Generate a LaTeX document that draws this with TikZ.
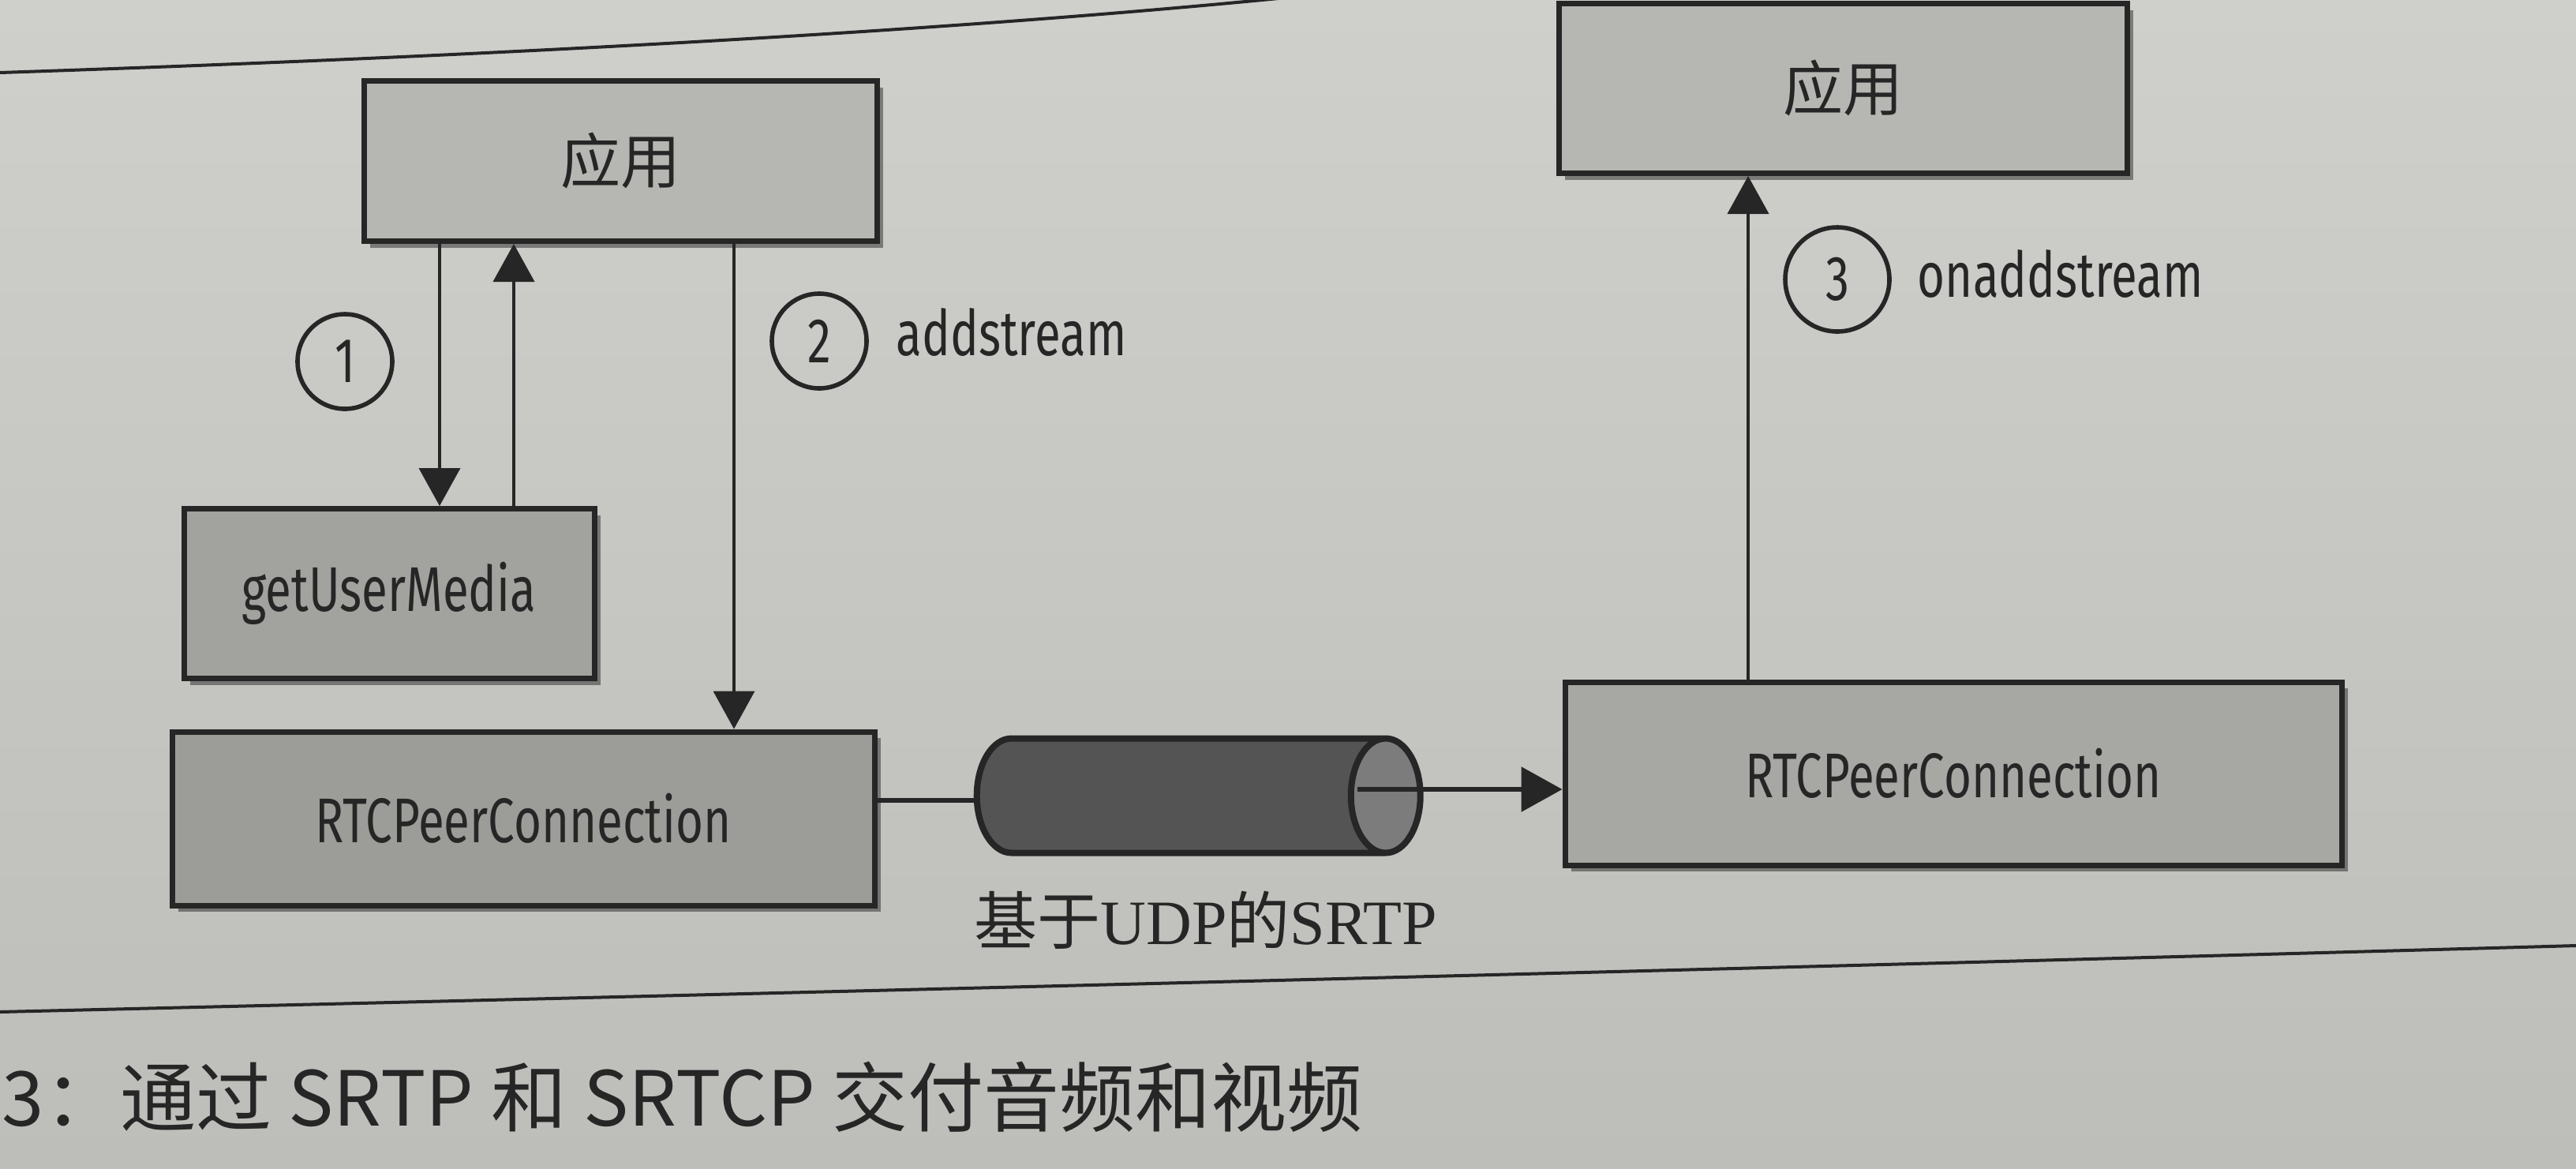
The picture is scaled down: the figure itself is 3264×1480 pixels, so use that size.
\documentclass[tikz,border=0pt]{standalone}
\usepackage{fontspec}
\usetikzlibrary{arrows.meta,shapes.geometric,shadows}
\newfontfamily\lab[FakeStretch=0.75]{Fira Sans}
\newfontfamily\cjk{Noto Sans CJK SC}
\newfontfamily\serifl{Liberation Serif}
\definecolor{paperT}{HTML}{CFCFCC}
\definecolor{paperB}{HTML}{BDBDBA}
\definecolor{ink}{HTML}{262626}
\definecolor{appfill}{HTML}{B6B6B3}
\definecolor{gumfill}{HTML}{A2A29F}
\definecolor{lrtcfill}{HTML}{9C9C99}
\definecolor{rrtcfill}{HTML}{A7A7A4}
\definecolor{cylbody}{HTML}{545454}
\definecolor{cylend}{HTML}{7C7C7C}
\begin{document}
\begin{tikzpicture}[x=0.25pt,y=-0.25pt,
  box/.style={draw=ink,line width=1.75pt,inner sep=0pt,text=ink,
    drop shadow={shadow xshift=2pt,shadow yshift=-2pt,opacity=0.4,fill=black}},
  latin/.style={font=\lab\fontsize{20pt}{24pt}\selectfont},
  chin/.style={font=\cjk\fontsize{19pt}{22pt}\selectfont},
  num/.style={circle,draw=ink,line width=1.4pt,minimum size=30pt,inner sep=0pt,
    text=ink,font=\lab\fontsize{20pt}{22pt}\selectfont},
  arr/.style={draw=ink,line width=1pt,-{Triangle[length=12pt,width=13pt]}},
  rulel/.style={draw=ink,line width=1pt}
]
\useasboundingbox (0,0) rectangle (3264,1480);
\shade[top color=paperT,bottom color=paperB] (0,0) rectangle (3264,1480);
% page rules
\draw[rulel] (0,92) .. controls (600,72) and (1200,40) .. (1640,-4);
\draw[rulel] (0,1282) .. controls (1000,1258) and (2200,1228) .. (3264,1198);
% boxes
\node[box,fill=appfill,chin,minimum width=162.5pt,minimum height=50.75pt] (lapp) at (786,204) {应用};
\node[box,fill=gumfill,latin,minimum width=130pt,minimum height=53.75pt] (gum) at (493,752) {getUserMedia};
\node[box,fill=lrtcfill,latin,minimum width=222.5pt,minimum height=55pt] (lrtc) at (663,1037) {RTCPeerConnection};
\node[box,fill=rrtcfill,latin,minimum width=246pt,minimum height=58pt] (rrtc) at (2475,980) {RTCPeerConnection};
\node[box,fill=appfill,chin,minimum width=180pt,minimum height=53.75pt] (rapp) at (2335,112) {应用};
% connectors
\draw[draw=ink,line width=1.5pt] (lrtc.east |- 0,1014) -- (1300,1014);
\node[cylinder,draw=ink,line width=2pt,minimum width=36.25pt,minimum height=140.5pt,aspect=3.3,
  cylinder uses custom fill,cylinder body fill=cylbody,cylinder end fill=cylend] (cyl) at (1482,1008) {};
\coordinate (cin) at (1720,1000);
\draw[draw=ink,line width=1.5pt,-{Triangle[length=13pt,width=14pt]}] (cin) -- (rrtc.west |- cin);
\draw[arr] (lapp.south -| 557,0) -- (gum.north -| 557,0);
\draw[arr] (gum.north -| 651,0) -- (lapp.south -| 651,0);
\draw[arr] (lapp.south -| 930,0) -- (lrtc.north -| 930,0);
\draw[arr] (rrtc.north -| 2215,0) -- (rapp.south -| 2215,0);
% numbered markers and labels
\node[num] (n1) at (437,458) {1};
\node[num] (n2) at (1038,432) {2};
\node[num,minimum size=33pt] (n3) at (2328,354) {3};
\node[latin,text=ink,anchor=base west,inner sep=0pt] (l2) at (1135,450) {addstream};
\node[latin,text=ink,anchor=base west,inner sep=0pt] (l3) at (2429,376) {onaddstream};
\node[text=ink,font=\fontsize{20pt}{24pt}\selectfont,inner sep=0pt] (l4) at (1528,1166)
  {{\cjk 基于}{\serifl UDP}{\cjk 的}{\serifl SRTP}};
\node[text=ink,font=\cjk\fontsize{24pt}{28pt}\selectfont,anchor=west,inner sep=0pt] (cap) at (2,1390)
  {3：通过 SRTP 和 SRTCP 交付音频和视频};
\end{tikzpicture}
\end{document}
